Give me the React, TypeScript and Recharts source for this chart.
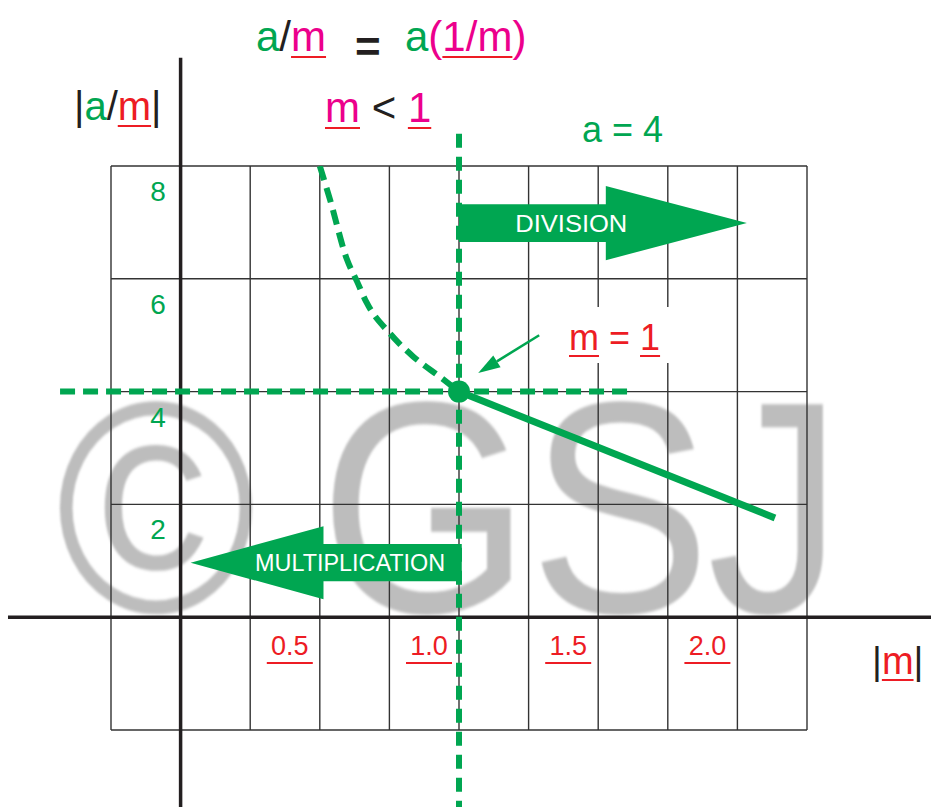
import React from "react";
import {
  ComposedChart,
  Line,
  XAxis,
  YAxis,
  CartesianGrid,
  ReferenceLine,
  ReferenceDot,
  ReferenceArea,
} from "recharts";

const W = 931;
const H = 807;
const GREEN = "#00a651";
const RED = "#ed1c24";
const PINK = "#ec008c";
const INK = "#231f20";
const FONT = '"Liberation Sans", Arial, Helvetica, sans-serif';

// grid and tick values
const xTicks = [-0.25, 0, 0.25, 0.5, 0.75, 1, 1.25, 1.5, 1.75, 2, 2.25];
const yTicks = [-2, 0, 2, 4, 6, 8];
const xLabels = [0.5, 1, 1.5, 2];
const yLabels = [2, 4, 6, 8];

// dashed branch (m < 1)
const curveM = [0.5, 0.537, 0.597, 0.634, 0.668, 0.752, 0.836, 0.932, 1.0];
const curveV = [8.0, 7.4, 6.35, 5.95, 5.58, 5.03, 4.62, 4.26, 4.0];

// solid branch (m > 1)
const lineM = [1.0, 2.135];
const lineV = [4.0, 1.76];

const curveData = curveM.map((m, i) => ({ m, v: curveV[i] }));
const lineData = lineM.map((m, i) => ({ m, v: lineV[i] }));

const XTick = (p: any) => {
  const v = p.payload.value;
  if (!xLabels.includes(v)) return <g />;
  const cx = p.x - 30;
  return (
    <g>
      <text
        x={cx}
        y={p.y - 75}
        textAnchor="middle"
        fill={RED}
        style={{ fontSize: 27, fontFamily: FONT }}
      >
        {v.toFixed(1)}
      </text>
      <line x1={cx - 23} x2={cx + 23} y1={p.y - 67} y2={p.y - 67} stroke={RED} strokeWidth={2} />
    </g>
  );
};

const YTick = (p: any) => {
  const v = p.payload.value;
  if (!yLabels.includes(v)) return <g />;
  return (
    <text
      x={p.x + 47}
      y={p.y + 35}
      textAnchor="middle"
      fill={GREEN}
      style={{ fontSize: 28, fontFamily: FONT }}
    >
      {v}
    </text>
  );
};

const makeArrow = (label: string, dir: "left" | "right", textLen: number) => (p: any) => {
  const { x, y, width, height } = p;
  const cy = y + height / 2;
  const bh = (height * 0.51) / 2;
  const headLen = width * 0.49;
  let pts: number[][];
  let tx: number;
  if (dir === "right") {
    const hx = x + width - headLen;
    pts = [[x, cy - bh], [hx, cy - bh], [hx, y], [x + width, cy], [hx, y + height], [hx, cy + bh], [x, cy + bh]];
    tx = x + width * 0.39;
  } else {
    const hx = x + headLen;
    pts = [[x + width, cy - bh], [hx, cy - bh], [hx, y], [x, cy], [hx, y + height], [hx, cy + bh], [x + width, cy + bh]];
    tx = x + width * 0.588;
  }
  return (
    <g>
      <polygon points={pts.map((q) => q.join(",")).join(" ")} fill={GREEN} />
      <text
        x={tx}
        y={cy + 8.5}
        textAnchor="middle"
        fill="#fff"
        style={{ fontSize: 24, fontFamily: FONT }}
        textLength={textLen}
        lengthAdjust="spacingAndGlyphs"
      >
        {label}
      </text>
    </g>
  );
};

const pointer = (p: any) => {
  const { x1, y1, x2, y2 } = p;
  const a = Math.atan2(y2 - y1, x2 - x1);
  const len = 22;
  const hw = 7;
  const bx = x2 - len * Math.cos(a);
  const by = y2 - len * Math.sin(a);
  const nx = -Math.sin(a);
  const ny = Math.cos(a);
  return (
    <g>
      <line x1={x1} y1={y1} x2={bx} y2={by} stroke={GREEN} strokeWidth={2.5} />
      <polygon
        points={`${x2},${y2} ${bx + nx * hw},${by + ny * hw} ${bx - nx * hw},${by - ny * hw}`}
        fill={GREEN}
      />
    </g>
  );
};

const Txt = ({ left, base, size, children, bold }: any) => (
  <div
    style={{
      position: "absolute",
      left,
      top: base - size * 0.8465,
      fontSize: size,
      lineHeight: 1,
      fontFamily: FONT,
      fontWeight: bold ? 700 : 400,
      whiteSpace: "pre",
    }}
  >
    {children}
  </div>
);

const U = ({ color, children }: any) => (
  <span
    style={{
      color,
      textDecoration: "underline",
      textDecorationColor: RED,
      textDecorationThickness: 2,
      textUnderlineOffset: 5,
    }}
  >
    {children}
  </span>
);

export default function App() {
  return (
    <div style={{ position: "absolute", left: 0, top: 0, width: W, height: H, background: "#fff", overflow: "hidden" }}>
      <svg width={W} height={H} style={{ position: "absolute", left: 0, top: 0 }}>
        <defs>
          <filter id="soft">
            <feGaussianBlur stdDeviation="1.2" />
          </filter>
        </defs>
        <g fill="#bdbdbd" fontFamily={FONT} fontSize={272} filter="url(#soft)" transform="translate(0,612) scale(1,1.11)">
          <text x={156} y={0} textAnchor="middle">©</text>
          <text x={425} y={0} textAnchor="middle">G</text>
          <text x={620} y={0} textAnchor="middle">S</text>
          <text x={775} y={0} textAnchor="middle">J</text>
        </g>
      </svg>

      <div style={{ position: "absolute", left: 0, top: 0 }}>
        <ComposedChart width={W} height={H} margin={{ top: 166, right: 124, bottom: 47, left: 71 }}>
          <CartesianGrid stroke="#333" strokeWidth={1.4} fill="none" />
          <XAxis
            type="number"
            dataKey="m"
            domain={[-0.25, 2.25]}
            ticks={xTicks}
            interval={0}
            allowDataOverflow
            height={30}
            tickSize={0}
            tickMargin={0}
            axisLine={false}
            tickLine={false}
            tick={XTick}
          />
          <YAxis
            type="number"
            dataKey="v"
            domain={[-2, 8]}
            ticks={yTicks}
            interval={0}
            allowDataOverflow
            width={40}
            tickSize={0}
            tickMargin={0}
            axisLine={false}
            tickLine={false}
            tick={YTick}
          />
          <ReferenceLine segment={[{ x: -0.62, y: 0 }, { x: 2.7, y: 0 }]} stroke={INK} strokeWidth={3.5} ifOverflow="visible" />
          <ReferenceLine segment={[{ x: 0, y: 9.92 }, { x: 0, y: -3.4 }]} stroke={INK} strokeWidth={3.5} ifOverflow="visible" />
          <ReferenceArea x1={1.0} x2={2.034} y1={6.33} y2={7.645} ifOverflow="visible" shape={makeArrow("DIVISION", "right", 112)} />
          <ReferenceArea x1={0.036} x2={1.01} y1={0.319} y2={1.614} ifOverflow="visible" shape={makeArrow("MULTIPLICATION", "left", 190)} />
          <ReferenceLine
            segment={[{ x: -0.433, y: 4 }, { x: 1.614, y: 4 }]}
            stroke={GREEN}
            strokeWidth={6}
            strokeDasharray="15 8"
            ifOverflow="visible"
          />
          <ReferenceLine
            segment={[{ x: 1, y: 8.57 }, { x: 1, y: -3.4 }]}
            stroke={GREEN}
            strokeWidth={6}
            strokeDasharray="14 9"
            ifOverflow="visible"
          />
          <Line
            data={curveData}
            dataKey="v"
            type="monotone"
            stroke={GREEN}
            strokeWidth={6}
            strokeDasharray="15 8"
            dot={false}
            activeDot={false}
            isAnimationActive={false}
          />
          <Line
            data={lineData}
            dataKey="v"
            type="linear"
            stroke={GREEN}
            strokeWidth={7}
            dot={false}
            activeDot={false}
            isAnimationActive={false}
          />
          <ReferenceDot x={1} y={4} r={11} fill={GREEN} stroke="none" ifOverflow="visible" />
          <ReferenceLine segment={[{ x: 1.288, y: 5.0 }, { x: 1.069, y: 4.33 }]} ifOverflow="visible" shape={pointer} />
        </ComposedChart>
      </div>

      <div style={{ position: "absolute", left: 553, top: 307, width: 127, height: 56, background: "#fff" }} />

      <Txt left={256} base={52} size={42}>
        <span style={{ color: GREEN }}>a</span>
        <span style={{ color: INK }}>/</span>
        <U color={PINK}>m</U>
      </Txt>
      <Txt left={355} base={62} size={44} bold>
        <span style={{ color: INK }}>=</span>
      </Txt>
      <Txt left={405} base={52} size={42}>
        <span style={{ color: GREEN }}>a</span>
        <span style={{ color: PINK }}>(</span>
        <U color={PINK}>1/m</U>
        <span style={{ color: PINK }}>)</span>
      </Txt>

      <Txt left={74} base={120} size={40}>
        <span style={{ color: INK }}>|</span>
        <span style={{ color: GREEN }}>a</span>
        <span style={{ color: INK }}>/</span>
        <U color={RED}>m</U>
        <span style={{ color: INK }}>|</span>
      </Txt>

      <Txt left={325} base={123} size={42}>
        <U color={PINK}>m</U>
        <span style={{ color: INK }}>{" < "}</span>
        <U color={PINK}>1</U>
      </Txt>

      <Txt left={582} base={142} size={36}>
        <span style={{ color: GREEN }}>a = 4</span>
      </Txt>

      <Txt left={569} base={350} size={36}>
        <U color={RED}>m</U>
        <span style={{ color: RED }}>{" = "}</span>
        <U color={RED}>1</U>
      </Txt>

      <Txt left={872} base={674} size={38}>
        <span style={{ color: INK }}>|</span>
        <U color={RED}>m</U>
        <span style={{ color: INK }}>|</span>
      </Txt>
    </div>
  );
}
